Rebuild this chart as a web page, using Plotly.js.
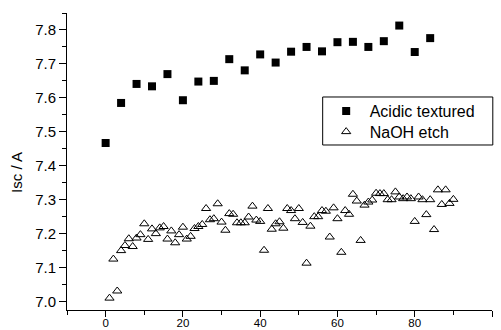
<!DOCTYPE html>
<html>
<head>
<meta charset="utf-8">
<script src="https://cdn.plot.ly/plotly-3.0.1.min.js"></script>
<style>html,body{margin:0;padding:0;background:#fff;}#chart{width:501px;height:330px;}</style>
</head>
<body>
<div id="chart"></div>
<script>
// Acidic textured series
const acidicX = [0, 4, 8, 12, 16, 20, 24, 28, 32, 36, 40, 44, 48, 52, 56, 60, 64, 68, 72, 76, 80, 84];
const acidicY = [7.467, 7.585, 7.641, 7.634, 7.670, 7.593, 7.648, 7.650, 7.714, 7.681, 7.728, 7.704, 7.736, 7.750, 7.737, 7.764, 7.765, 7.750, 7.767, 7.813, 7.735, 7.776];

// NaOH etch series
const naohX = [1,2,3,4,5,6,7,8,9,10,11,12,13,14,15,16,17,18,19,20,21,22,23,24,25,26,27,28,29,30,
  31,32,33,34,35,36,37,38,39,40,41,42,43,44,45,46,47,48,49,50,51,52,53,54,55,56,57,58,59,60,
  61,62,63,64,65,66,67,68,69,70,71,72,73,74,75,76,77,78,79,80,81,82,83,84,85,86,87,88,89,90];
const naohY = [7.010,7.125,7.031,7.150,7.165,7.185,7.162,7.187,7.197,7.229,
  7.183,7.214,7.200,7.217,7.221,7.184,7.208,7.173,7.197,7.219,
  7.184,7.192,7.215,7.221,7.227,7.274,7.241,7.244,7.288,7.234,
  7.210,7.259,7.257,7.232,7.232,7.232,7.249,7.281,7.240,7.236,
  7.151,7.274,7.213,7.229,7.235,7.216,7.274,7.268,7.244,7.274,
  7.233,7.113,7.222,7.250,7.250,7.268,7.266,7.190,7.276,7.244,
  7.145,7.268,7.257,7.316,7.296,7.180,7.284,7.293,7.299,7.319,
  7.318,7.318,7.300,7.300,7.323,7.308,7.303,7.308,7.303,7.236,
  7.308,7.300,7.256,7.300,7.212,7.329,7.286,7.329,7.289,7.301];

const seriesNames = ["Acidic textured", "NaOH etch"];
const xTickVals = [0, 20, 40, 60, 80, 100];
const yTickVals = [7.0, 7.1, 7.2, 7.3, 7.4, 7.5, 7.6, 7.7, 7.8];
const yTitle = "Isc / A";

const font = "Liberation Sans, Arial, sans-serif";

const traces = [
  {x: acidicX, y: acidicY, name: seriesNames[0], type: "scatter", mode: "markers", legend: "legend",
   marker: {symbol: "square", size: 8, color: "#000"}},
  {x: naohX, y: naohY, name: seriesNames[1], type: "scatter", mode: "markers", legend: "legend2",
   marker: {symbol: "triangle-up-open", size: 8, color: "#000", line: {width: 1, color: "#000"}}}
];

const legendBase = {xanchor: "left", yanchor: "middle", borderwidth: 0, bgcolor: "rgba(0,0,0,0)",
  itemwidth: 37, font: {size: 16, family: font, color: "#000"}};

const layout = {
  width: 501, height: 330,
  margin: {l: 67, r: 9, t: 13, b: 20},
  paper_bgcolor: "#fff", plot_bgcolor: "#fff",
  font: {family: font, color: "#000"},
  showlegend: true,
  legend: Object.assign({}, legendBase, {x: 0.6016, y: 0.670}),
  legend2: Object.assign({}, legendBase, {x: 0.6016, y: 0.6003}),
  shapes: [{type: "rect", xref: "paper", yref: "paper", x0: 0.6016, x1: 1.0019, y0: 0.5556, y1: 0.7172,
            line: {color: "#000", width: 1}, fillcolor: "rgba(0,0,0,0)", layer: "above"}],
  annotations: [{text: yTitle, xref: "paper", yref: "paper", x: -0.119, y: 0.463, xanchor: "center",
                 yanchor: "middle", textangle: -90, showarrow: false,
                 font: {size: 15, family: font, color: "#000"}}],
  xaxis: {range: [-10, 100], tickvals: xTickVals, ticks: "outside", ticklen: 6, tickwidth: 1,
          tickcolor: "#000", showline: true, linecolor: "#000", linewidth: 1, showgrid: false,
          zeroline: false, ticklabelstandoff: -4, tickfont: {size: 11.5, family: font, color: "#000"},
          minor: {dtick: 10, tick0: 0, ticks: "outside", ticklen: 4, tickcolor: "#000", showgrid: false}},
  yaxis: {range: [6.975, 7.85], tickvals: yTickVals, tickformat: ".1f", ticks: "outside", ticklen: 7,
          tickwidth: 1, tickcolor: "#000", showline: true, linecolor: "#000", linewidth: 1,
          showgrid: false, zeroline: false, tickfont: {size: 15, family: font, color: "#000"},
          minor: {dtick: 0.05, tick0: 0, ticks: "outside", ticklen: 4, tickcolor: "#000", showgrid: false}}
};

Plotly.newPlot("chart", traces, layout, {displayModeBar: false, staticPlot: true});
</script>
</body>
</html>
